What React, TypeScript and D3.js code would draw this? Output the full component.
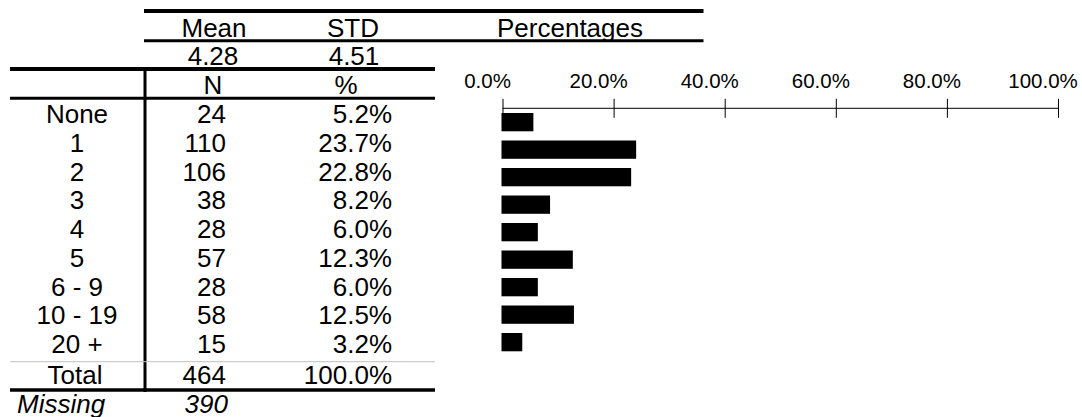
import { useEffect, useRef } from 'react'
import * as d3 from 'd3'

// frequency table with a percentage bar strip on the right
const categories = ['None', '1', '2', '3', '4', '5', '6 - 9', '10 - 19', '20 +']
const counts = [24, 110, 106, 38, 28, 57, 28, 58, 15]
const percents = [5.2, 23.7, 22.8, 8.2, 6.0, 12.3, 6.0, 12.5, 3.2]
const totalN = 464
const totalPct = 100.0
const missingN = 390
const statLabels = ['Mean', 'STD']
const statValues = [4.28, 4.51]
const pctTicks = [0, 20, 40, 60, 80, 100]

const W = 1082, H = 417
const FONT = '"Liberation Sans", Arial, sans-serif'

export default function App() {
  const axisRef = useRef<SVGGElement>(null)

  const x = d3.scaleLinear().domain([0, 100]).range([502.5, 1058])
  const step = 27.5
  const yBar = d3.scaleBand<string>()
    .domain(categories)
    .range([108.4, 108.4 + categories.length * step])
    .paddingInner(0.335)
    .paddingOuter(0.1675)

  // table rows (baselines)
  const rowY = d3.scaleLinear().domain([0, 1]).range([123, 151.75])
  const totalY = 383.5
  const missingY = 412.5

  const fmtPct = (v: number) => `${v.toFixed(1)}%`

  useEffect(() => {
    if (!axisRef.current) return
    const g = d3.select(axisRef.current)
    g.selectAll('*').remove()
    g.call(d3.axisTop(x).tickValues(pctTicks).tickSize(9.5).tickSizeOuter(0).tickFormat(() => ''))
      .call(s => s.selectAll('line').attr('stroke', '#000').attr('y2', -9.5).attr('y1', 9.5))
      .call(s => s.select('.domain').attr('stroke', '#000').attr('d', `M${x(0)},0H${x(100)}`))
    g.selectAll('.tick').append('text')
      .attr('x', -15.5).attr('y', -20.3)
      .attr('text-anchor', 'middle')
      .attr('fill', '#000')
      .attr('font-size', 20.5)
      .attr('font-family', FONT)
      .text(d => fmtPct(d as number))
  }, [])

  const cLabel = 77
  const cN = 226
  const cPct = 392

  return (
    <svg width={W} height={H} style={{ position: 'absolute', left: 0, top: 0, background: '#fff' }}
      fontFamily={FONT} fontSize={26}>
      {/* header lines */}
      <line x1={144} x2={703.5} y1={11} y2={11} stroke="#000" strokeWidth={4} />
      <line x1={144} x2={703.5} y1={40.7} y2={40.7} stroke="#000" strokeWidth={3} />
      <line x1={10} x2={435} y1={69} y2={69} stroke="#000" strokeWidth={4} />
      <line x1={10} x2={435} y1={98.3} y2={98.3} stroke="#000" strokeWidth={3} />
      <line x1={145} x2={145} y1={67} y2={392} stroke="#000" strokeWidth={3} />
      <line x1={10} x2={435} y1={361.7} y2={361.7} stroke="#c0c0c0" strokeWidth={1} />
      <line x1={10} x2={435} y1={390} y2={390} stroke="#000" strokeWidth={3.5} />

      <text x={214} y={36.5} textAnchor="middle">{statLabels[0]}</text>
      <text x={353} y={36.5} textAnchor="middle">{statLabels[1]}</text>
      <text x={570} y={36.5} textAnchor="middle">Percentages</text>
      <text x={213} y={65} textAnchor="middle">{statValues[0].toFixed(2)}</text>
      <text x={354} y={65} textAnchor="middle">{statValues[1].toFixed(2)}</text>
      <text x={213} y={93.5} textAnchor="middle">N</text>
      <text x={346} y={93.5} textAnchor="middle">%</text>

      {categories.map((c, i) => (
        <g key={c}>
          <text x={cLabel} y={rowY(i)} textAnchor="middle">{c}</text>
          <text x={cN} y={rowY(i)} textAnchor="end">{counts[i]}</text>
          <text x={cPct} y={rowY(i)} textAnchor="end">{fmtPct(percents[i])}</text>
        </g>
      ))}
      <text x={cLabel - 2} y={totalY} textAnchor="middle">Total</text>
      <text x={cN} y={totalY} textAnchor="end">{totalN}</text>
      <text x={cPct} y={totalY} textAnchor="end">{fmtPct(totalPct)}</text>
      <text x={17} y={missingY} fontStyle="italic">Missing</text>
      <text x={cN + 2} y={missingY} textAnchor="end" fontStyle="italic">{missingN}</text>

      <g ref={axisRef} transform="translate(0,108.3)" />

      {categories.map((c, i) => (
        <rect key={c}
          x={x(0)}
          y={(yBar(c) ?? 0) + 1}
          width={x(percents[i]) - x(0) + 1}
          height={yBar.bandwidth() - 2}
          fill="#000" stroke="#000" strokeWidth={2} />
      ))}
    </svg>
  )
}
